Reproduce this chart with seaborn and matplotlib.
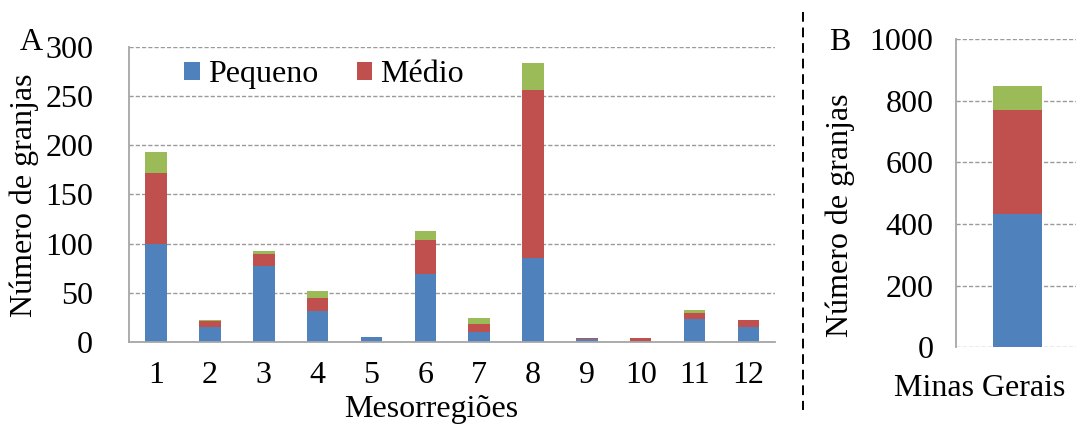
import numpy as np
import pandas as pd
import matplotlib
matplotlib.use("Agg")
import matplotlib.pyplot as plt
from matplotlib.lines import Line2D
from matplotlib.patches import Patch
import seaborn as sns

# Farm counts per mesoregion, by farm size
regions = ["1", "2", "3", "4", "5", "6", "7", "8", "9", "10", "11", "12"]
pequeno = [100, 15, 77, 31, 5, 69, 10, 85, 3, 1, 23, 15]
medio = [72, 6, 12, 14, 0, 35, 8, 171, 1, 3, 6, 7]
grande = [21, 1, 3, 7, 0, 9, 6, 27, 0, 0, 4, 0]

# State totals
state = ["Minas Gerais"]
state_pequeno = [433]
state_medio = [337]
state_grande = [78]

blue, red, green = "#4F81BD", "#C0504D", "#9BBB59"
grid_gray = "#9a9a9a"
FS = 23

sns.set_theme(style="white")
plt.rcParams["font.family"] = ["Liberation Serif", "DejaVu Serif"]
plt.rcParams["font.size"] = FS
for k in ("text.color", "axes.labelcolor", "xtick.color", "ytick.color"):
    plt.rcParams[k] = "black"

W, H = 1076, 425
fig = plt.figure(figsize=(W / 100, H / 100), dpi=100)


def stacked(ax, cats, s1, s2, s3):
    df = pd.DataFrame({"cat": cats, "p": s1, "m": s2, "g": s3})
    df["pm"] = df["p"] + df["m"]
    df["pmg"] = df["pm"] + df["g"]
    for col, c in (("pmg", green), ("pm", red), ("p", blue)):
        sns.barplot(data=df, x="cat", y=col, color=c, width=0.4,
                    saturation=1, edgecolor="none", linewidth=0, ax=ax)
    ax.set_xlabel("")
    ax.set_ylabel("")


# Panel A: mesoregions
axA = fig.add_axes([129.3 / W, (H - 342) / H, 646 / W, 295.3 / H])
stacked(axA, regions, pequeno, medio, grande)
axA.set_ylim(0, 300)
axA.set_yticks(range(0, 301, 50))
axA.set_xlim(-0.5, len(regions) - 0.5)
axA.yaxis.grid(True, color=grid_gray, linestyle=(0, (3, 1.5)), linewidth=1)
axA.set_axisbelow(True)
for s in ("top", "right"):
    axA.spines[s].set_visible(False)
for s in ("left", "bottom"):
    axA.spines[s].set_color("#a6a6a6")
    axA.spines[s].set_linewidth(1.3)
axA.tick_params(axis="y", length=0, pad=26, labelsize=FS)
axA.tick_params(axis="x", length=0, pad=14, labelsize=FS)
fig.text(24 / W, 1 - 195 / H, "Número de granjas", rotation=90,
         ha="center", va="center", fontsize=FS)
fig.text(431 / W, 1 - 409 / H, "Mesorregiões", ha="center", va="center", fontsize=FS)
fig.text(31 / W, 1 - 42 / H, "A", ha="center", va="center", fontsize=FS)

handles = [Patch(facecolor=blue, edgecolor="none"), Patch(facecolor=red, edgecolor="none")]
axA.legend(handles, ["Pequeno", "Médio"], loc="upper left",
           bbox_to_anchor=(0.05, 1.03), ncol=2, frameon=False, fontsize=FS,
           handlelength=0.5, handleheight=0.5, handletextpad=0.25,
           columnspacing=1.2, borderaxespad=0.3)

# Panel B: state total
axB = fig.add_axes([955.7 / W, (H - 347.3) / H, 123 / W, 308.3 / H])
stacked(axB, state, state_pequeno, state_medio, state_grande)
axB.set_ylim(0, 1000)
axB.set_yticks(range(0, 1001, 200))
axB.set_xlim(-0.5, 0.5)
axB.yaxis.grid(True, color=grid_gray, linestyle=(0, (3, 1.5)), linewidth=1)
axB.set_axisbelow(True)
for s in ("top", "right", "bottom"):
    axB.spines[s].set_visible(False)
axB.spines["left"].set_color("#a6a6a6")
axB.spines["left"].set_linewidth(1.3)
axB.tick_params(axis="y", length=0, pad=16, labelsize=FS)
axB.set_xticks([])
fig.text(980 / W, 1 - 388 / H, "Minas Gerais", ha="center", va="center", fontsize=FS)
fig.text(840 / W, 1 - 215 / H, "Número de granjas", rotation=90,
         ha="center", va="center", fontsize=FS)
fig.text(840 / W, 1 - 43 / H, "B", ha="center", va="center", fontsize=FS)

# Dashed divider between the panels
fig.add_artist(Line2D([802.7 / W, 802.7 / W], [1 - 12 / H, 1 - 410 / H],
                      transform=fig.transFigure, color="black",
                      linewidth=1.4, linestyle=(0, (5, 3))))

fig.savefig("out.png", dpi=100, facecolor="white")
